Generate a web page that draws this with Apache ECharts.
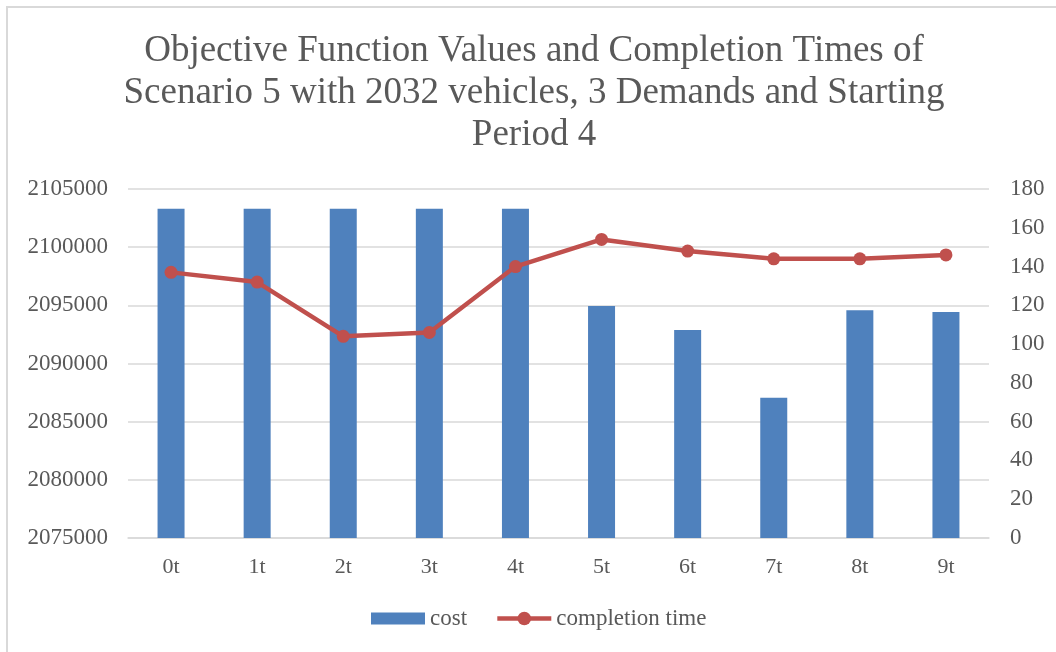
<!DOCTYPE html>
<html>
<head>
<meta charset="utf-8">
<style>
  html, body { margin: 0; padding: 0; background: #ffffff; }
  #chart { width: 1056px; height: 652px; }
</style>
<script src="https://cdn.jsdelivr.net/npm/echarts@6/dist/echarts.min.js"></script>
</head>
<body>
<div id="chart"></div>
<script>
// Scenario periods on the x axis
const categories = ['0t', '1t', '2t', '3t', '4t', '5t', '6t', '7t', '8t', '9t'];
// Objective function value (cost) per period
const costValues = [2103300, 2103300, 2103300, 2103300, 2103300, 2094950, 2092880, 2087060, 2094570, 2094430];
// Completion time per period
const completionTimes = [137, 132, 104, 106, 140, 154, 148, 144, 144, 146];

const titleText = 'Objective Function Values and Completion Times of\nScenario 5 with 2032 vehicles, 3 Demands and Starting\nPeriod 4';

const serif = '"Liberation Serif", "Times New Roman", serif';
const textGray = '#595959';
const red = '#c0504d';

const chart = echarts.init(document.getElementById('chart'));
chart.setOption({
  animation: false,
  backgroundColor: '#ffffff',
  textStyle: { fontFamily: serif },
  graphic: [{
    type: 'rect',
    shape: { x: 7, y: 7, width: 1100, height: 700 },
    style: { fill: 'none', stroke: '#d9d9d9', lineWidth: 2 },
    silent: true
  }],
  title: {
    text: titleText,
    left: 534,
    top: 30,
    padding: 0,
    textAlign: 'center',
    textStyle: {
      fontFamily: serif,
      fontSize: 37,
      fontWeight: 'normal',
      color: textGray,
      lineHeight: 42
    }
  },
  legend: {
    bottom: 17,
    left: 366,
    itemWidth: 54,
    itemHeight: 17,
    itemGap: 28,
    symbolKeepAspect: true,
    textStyle: { fontFamily: serif, fontSize: 23, color: textGray },
    data: [
      // flat bar swatch, kept 54x12 inside the taller legend slot
      { name: 'cost', icon: 'path://M0,0h54v12h-54z' },
      { name: 'completion time', lineStyle: { width: 4.5, color: red } }
    ]
  },
  grid: { left: 128, right: 67, top: 189, bottom: 114 },
  xAxis: {
    type: 'category',
    data: categories,
    axisLine: { lineStyle: { color: '#d9d9d9', width: 1.5 } },
    axisTick: { show: false },
    axisLabel: { fontFamily: serif, fontSize: 22, color: textGray, margin: 18 }
  },
  yAxis: [
    {
      type: 'value',
      min: 2075000,
      max: 2105000,
      interval: 5000,
      axisLine: { show: false },
      axisTick: { show: false },
      axisLabel: {
        fontFamily: serif, fontSize: 23, color: textGray, margin: 20,
        formatter: (v) => String(v)
      },
      splitLine: { lineStyle: { color: '#d9d9d9', width: 1.5 } }
    },
    {
      type: 'value',
      min: 0,
      max: 180,
      interval: 20,
      axisLine: { show: false },
      axisTick: { show: false },
      axisLabel: { fontFamily: serif, fontSize: 23, color: textGray, margin: 21 },
      splitLine: { show: false }
    }
  ],
  series: [
    {
      name: 'cost',
      type: 'bar',
      yAxisIndex: 0,
      data: costValues,
      barWidth: 27,
      itemStyle: { color: '#4f81bd' }
    },
    {
      name: 'completion time',
      type: 'line',
      yAxisIndex: 1,
      data: completionTimes,
      symbol: 'circle',
      symbolSize: 13,
      lineStyle: { color: red, width: 4.5 },
      itemStyle: { color: red }
    }
  ]
});
</script>
</body>
</html>
